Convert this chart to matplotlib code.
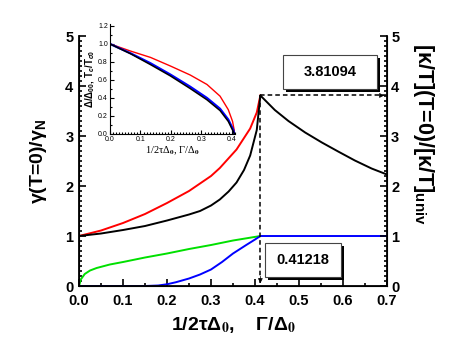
import matplotlib
matplotlib.use('Agg')
import matplotlib.pyplot as plt
from matplotlib.patches import Rectangle
from matplotlib.ticker import MultipleLocator

plt.rcParams['font.family'] = ['Liberation Sans', 'DejaVu Sans']
plt.rcParams['font.weight'] = 'bold'
plt.rcParams['axes.labelweight'] = 'bold'
plt.rcParams['mathtext.fontset'] = 'custom'
plt.rcParams['mathtext.rm'] = 'Liberation Sans:bold'
plt.rcParams['mathtext.bf'] = 'Liberation Sans:bold'
plt.rcParams['mathtext.it'] = 'Liberation Sans:italic'

# values
x_crit = 0.41218
peak = 3.81094

red_x = [0, 0.05, 0.1, 0.15, 0.2, 0.25, 0.3, 0.32, 0.358, 0.389, 0.404, x_crit]
red_y = [1.0, 1.11, 1.26, 1.44, 1.66, 1.90, 2.20, 2.36, 2.73, 3.15, 3.47, peak]

black_x = [0, 0.05, 0.1, 0.15, 0.2, 0.25, 0.275, 0.3, 0.32, 0.34, 0.358, 0.375, 0.389, 0.404, x_crit,
           0.445, 0.476, 0.514, 0.552, 0.589, 0.627, 0.665, 0.7]
black_y = [1.0, 1.05, 1.12, 1.2, 1.31, 1.43, 1.5, 1.61, 1.73, 1.89, 2.07, 2.32, 2.61, 3.12, peak,
           3.52, 3.30, 3.07, 2.87, 2.69, 2.51, 2.35, 2.23]

green_x = [0, 0.004, 0.013, 0.025, 0.04, 0.07, 0.1, 0.15, 0.2, 0.25, 0.3, 0.35, x_crit]
green_y = [0, 0.13, 0.24, 0.31, 0.36, 0.43, 0.48, 0.57, 0.65, 0.74, 0.82, 0.91, 1.0]

blue_x = [0, 0.1, 0.15, 0.18, 0.2, 0.22, 0.25, 0.275, 0.3, 0.325, 0.35, 0.38, 0.4, x_crit, 0.7]
blue_y = [0, 0, 0, 0.01, 0.035, 0.075, 0.15, 0.23, 0.33, 0.48, 0.65, 0.82, 0.93, 1.0, 1.0]

# inset: gap / Tc suppression
in_x = [0, 0.068, 0.133, 0.198, 0.263, 0.318, 0.361, 0.388, 0.402, 0.4075, 0.41]
in_red = [1.0, 0.92, 0.85, 0.755, 0.655, 0.55, 0.42, 0.27, 0.14, 0.04, 0.0]
in_x2 = [0, 0.068, 0.133, 0.198, 0.263, 0.318, 0.361, 0.388, 0.404, 0.408]
in_black = [1.0, 0.89, 0.77, 0.645, 0.505, 0.38, 0.26, 0.14, 0.03, 0.0]
in_blue = [1.0, 0.895, 0.785, 0.66, 0.525, 0.40, 0.28, 0.16, 0.05, 0.0]

fig = plt.figure(figsize=(4.67, 3.58), dpi=100)
ax = fig.add_axes([0.1692, 0.2011, 0.6595, 0.6983])

lw = 1.4
ax.plot(red_x, red_y, color='#ff0000', lw=lw)
ax.plot(black_x, black_y, color='black', lw=lw)
ax.plot(green_x, green_y, color='#00e000', lw=lw)
ax.plot(blue_x, blue_y, color='#0000ff', lw=lw)

# dashed guides with arrowheads
ax.plot([x_crit, x_crit], [peak, 0], color='k', lw=1.1, ls=(0, (3, 2)))
ax.plot([x_crit, 0.7], [peak, peak], color='k', lw=1.1, ls=(0, (3, 2)))
ax.annotate('', xy=(x_crit, 0), xytext=(x_crit, 0.25),
            arrowprops=dict(arrowstyle='-|>', lw=0.5, color='k', mutation_scale=7))
ax.annotate('', xy=(0.7, peak), xytext=(0.68, peak),
            arrowprops=dict(arrowstyle='-|>', lw=0.5, color='k', mutation_scale=7))

ax.set_xlim(0, 0.7)
ax.set_ylim(0, 5)
ax.xaxis.set_major_locator(MultipleLocator(0.1))
ax.xaxis.set_minor_locator(MultipleLocator(0.05))
ax.yaxis.set_major_locator(MultipleLocator(1))
ax.yaxis.set_minor_locator(MultipleLocator(0.1))
ax.xaxis.set_major_formatter(plt.FormatStrFormatter('%.1f'))
ax.tick_params(which='both', direction='in', width=1.2, labelsize=10.5, top=False)
ax.tick_params(which='major', length=5, pad=4)
ax.tick_params(axis='x', which='major', pad=6)
ax.tick_params(which='minor', length=2.5)
ax.spines['top'].set_visible(False)
for s in ['left', 'bottom', 'right']:
    ax.spines[s].set_linewidth(1.3)

ax.set_ylabel(r'γ(T=0)/γ$_{\mathbf{N}}$', fontsize=14, labelpad=12)
ax.set_xlabel(r'1/2τΔ$_0$,    Γ/Δ$_0$', fontsize=14, labelpad=5, math_fontfamily='stix')

ax2 = ax.twinx()
ax2.set_ylim(0, 5)
ax2.yaxis.set_major_locator(MultipleLocator(1))
ax2.yaxis.set_minor_locator(MultipleLocator(0.1))
ax2.tick_params(which='both', direction='in', width=1.2, labelsize=10.5)
ax2.tick_params(which='major', length=5, pad=3)
ax2.tick_params(which='minor', length=2.5)
ax2.spines['top'].set_visible(False)
ax2.set_ylabel(r'[κ/T](T=0)/[κ/T]$_{\mathbf{univ}}$', fontsize=15.5, rotation=-90,
               va='center', ha='center')
ax2.yaxis.set_label_coords(1.117, 0.61)

# value boxes with drop shadow
def shadow_box(x0, y0, w, h, txt):
    dx, dy = 3 / 467, 3 / 358
    fig.patches.append(Rectangle((x0 + dx, y0 - dy), w, h, transform=fig.transFigure,
                                 facecolor='black', edgecolor='black', lw=0))
    fig.patches.append(Rectangle((x0, y0), w, h, transform=fig.transFigure,
                                 facecolor='white', edgecolor='#444444', lw=0.8))
    fig.text(x0 + w / 2, y0 + h / 2, txt, ha='center', va='center', fontsize=10.5)

shadow_box(0.6053, 0.7506, 0.2026, 0.0958, f'{peak:.5f}')
shadow_box(0.5675, 0.2254, 0.1621, 0.095, f'{x_crit:.5f}')

# inset
axi = fig.add_axes([0.2355, 0.6257, 0.2677, 0.307])
axi.patch.set_alpha(0)
axi.plot(in_x, in_red, color='#ff0000', lw=1.0)
axi.plot(in_x2, in_blue, color='#0000ff', lw=1.6)
axi.plot(in_x2, in_black, color='black', lw=1.1)
axi.set_xlim(0, 0.41)
axi.set_ylim(0, 1.22)
axi.spines['top'].set_visible(False)
axi.spines['right'].set_visible(False)
axi.xaxis.set_major_locator(MultipleLocator(0.1))
axi.xaxis.set_minor_locator(MultipleLocator(0.01))
axi.yaxis.set_major_locator(MultipleLocator(0.2))
axi.yaxis.set_minor_locator(MultipleLocator(0.1))
axi.xaxis.set_major_formatter(plt.FormatStrFormatter('%.1f'))
axi.yaxis.set_major_formatter(plt.FormatStrFormatter('%.1f'))
axi.tick_params(which='both', direction='in', width=0.8, labelsize=5, pad=1.5)
axi.tick_params(which='major', length=3)
axi.tick_params(which='minor', length=1.5)
for lab in axi.get_xticklabels() + axi.get_yticklabels():
    lab.set_fontweight('normal')
axi.set_xlabel(r'1/2τΔ$_0$, Γ/Δ$_0$', fontsize=7.5, family='Liberation Serif',
               fontweight='normal', labelpad=1, math_fontfamily='stix')
axi.set_ylabel(r'Δ/Δ$_{00}$, T$_c$/T$_{c0}$', fontsize=7, labelpad=1)

fig.savefig('out.png', dpi=100)
